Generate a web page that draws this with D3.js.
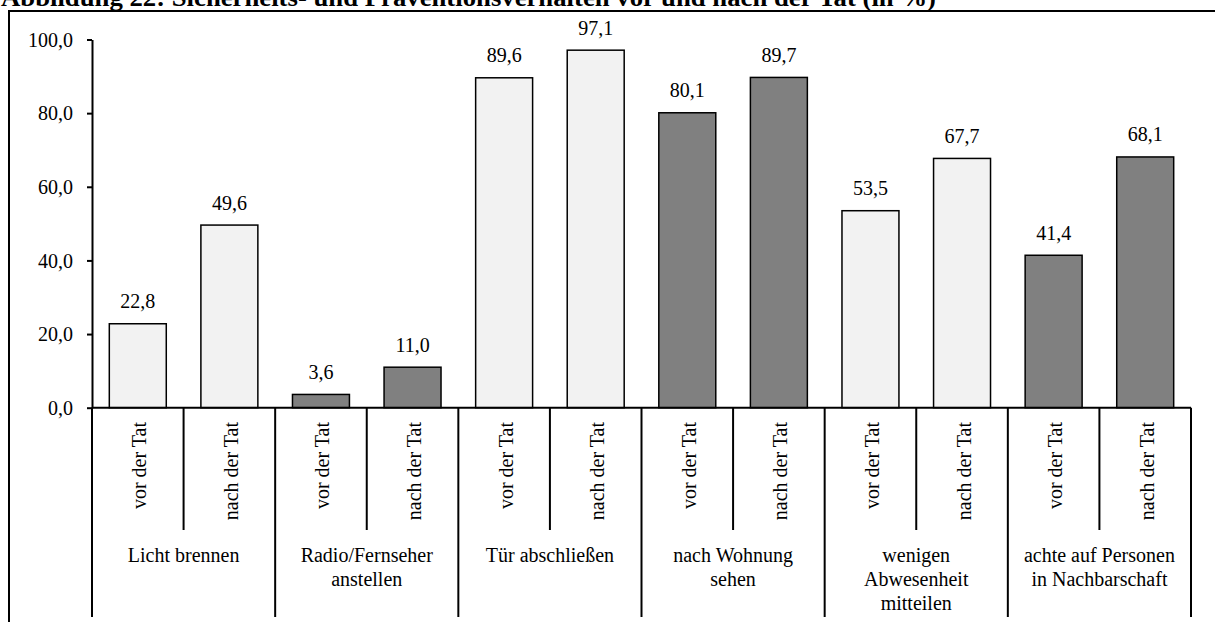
<!DOCTYPE html>
<html>
<head>
<meta charset="utf-8">
<script src="https://cdn.jsdelivr.net/npm/d3@7/dist/d3.min.js"></script>
<style>
  html, body { margin: 0; padding: 0; background: #fff; }
  svg { display: block; }
  text { font-family: "Liberation Serif", "Times New Roman", serif; fill: #000; }
</style>
</head>
<body>
<svg id="chart" width="1215" height="622"></svg>
<script>
const title = "Abbildung 22: Sicherheits- und Präventionsverhalten vor und nach der Tat (in %)";
const groups = ["Licht brennen", "Radio/Fernseher anstellen", "Tür abschließen", "nach Wohnung sehen", "wenigen Abwesenheit mitteilen", "achte auf Personen in Nachbarschaft"];
const groupLines = [["Licht brennen"], ["Radio/Fernseher", "anstellen"], ["Tür abschließen"], ["nach Wohnung", "sehen"], ["wenigen", "Abwesenheit", "mitteilen"], ["achte auf Personen", "in Nachbarschaft"]];
const periods = ["vor der Tat", "nach der Tat"];
const vorValues = [22.8, 3.6, 89.6, 80.1, 53.5, 41.4];
const nachValues = [49.6, 11.0, 97.1, 89.7, 67.7, 68.1];
const yTicks = [0, 20, 40, 60, 80, 100];
const groupShade = ["light", "dark", "light", "dark", "light", "dark"];

const fills = { light: "#f2f2f2", dark: "#808080" };

const svg = d3.select("#chart");
const locale = d3.formatLocale({ decimal: ",", thousands: ".", grouping: [3], currency: ["", "€"] });
const fmt = locale.format(".1f");

const x0 = d3.scaleBand().domain(groups).range([92, 1191]).padding(0);
const x1 = d3.scaleBand().domain(periods).range([0, x0.bandwidth()]).paddingInner(0.378).paddingOuter(0.189);
const y = d3.scaleLinear().domain([0, 100]).range([407.7, 39.5]);

const data = [];
groups.forEach((g, i) => {
  data.push({ group: g, period: periods[0], value: vorValues[i], shade: groupShade[i] });
  data.push({ group: g, period: periods[1], value: nachValues[i], shade: groupShade[i] });
});

// title (partially cut off at top, as in the reference)
svg.append("text").attr("x", 1).attr("y", 5.5)
  .style("font-size", "25px").style("font-weight", "bold")
  .attr("textLength", 935).attr("lengthAdjust", "spacingAndGlyphs")
  .text(title);

// frame
svg.append("path").attr("d", "M9,622 V11 H1215")
  .attr("fill", "none").attr("stroke", "#000").attr("stroke-width", 2);

// bars
svg.append("g").selectAll("rect").data(data).join("rect")
  .attr("x", d => x0(d.group) + x1(d.period))
  .attr("y", d => y(d.value))
  .attr("width", x1.bandwidth())
  .attr("height", d => y(0) - y(d.value))
  .attr("fill", d => fills[d.shade])
  .attr("stroke", "#000").attr("stroke-width", 1.5);

// value labels
svg.append("g").selectAll("text").data(data).join("text")
  .attr("x", d => x0(d.group) + x1(d.period) + x1.bandwidth() / 2)
  .attr("y", d => y(d.value) - 15.5)
  .attr("text-anchor", "middle")
  .style("font-size", "20px")
  .text(d => fmt(d.value));

// y axis
const yAxis = d3.axisLeft(y).tickValues(yTicks).tickFormat(fmt).tickSize(5).tickSizeOuter(0).tickPadding(14);
const gy = svg.append("g").attr("transform", "translate(92,0)").call(yAxis);
gy.select(".domain").attr("stroke", "#000").attr("stroke-width", 2);
gy.selectAll(".tick line").attr("stroke", "#000").attr("stroke-width", 2);
gy.selectAll(".tick text").style("font-size", "20px").attr("font-family", null).attr("dy", "0.33em");

// x axis baseline
svg.append("line").attr("x1", 92).attr("x2", 1191).attr("y1", y(0)).attr("y2", y(0))
  .attr("stroke", "#000").attr("stroke-width", 2);

// separators below axis
const bounds = [];
groups.forEach(g => {
  bounds.push({ x: x0(g), long: true });
  bounds.push({ x: x0(g) + x0.bandwidth() / 2, long: false });
});
bounds.push({ x: x0.range()[1], long: true });
svg.append("g").selectAll("line").data(bounds).join("line")
  .attr("x1", d => d.x).attr("x2", d => d.x)
  .attr("y1", y(0)).attr("y2", d => d.long ? 617 : 530)
  .attr("stroke", "#000").attr("stroke-width", 2);

// rotated period labels
svg.append("g").selectAll("text").data(data).join("text")
  .attr("transform", d => `translate(${x0(d.group) + x0.bandwidth() * (d.period === periods[0] ? 0.25 : 0.75) + 8.5},422) rotate(-90)`)
  .attr("text-anchor", "end")
  .style("font-size", "20px")
  .text(d => d.period);

// group labels
const gl = svg.append("g").selectAll("text").data(groups).join("text")
  .attr("text-anchor", "middle")
  .style("font-size", "20px");
gl.each(function (g, i) {
  const t = d3.select(this);
  groupLines[i].forEach((line, j) => {
    t.append("tspan").attr("x", x0(g) + x0.bandwidth() / 2).attr("y", 562 + j * 24).text(line);
  });
});
</script>
</body>
</html>
